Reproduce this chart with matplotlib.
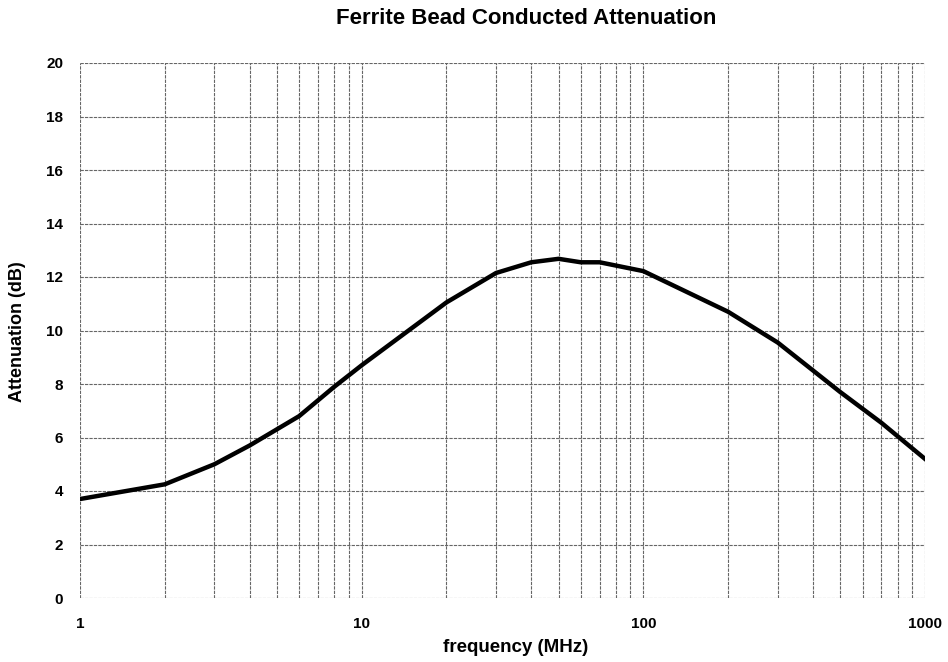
import matplotlib
matplotlib.use("Agg")
import matplotlib.pyplot as plt
from matplotlib.ticker import FixedLocator, NullFormatter

freq_mhz = [1, 2, 3, 4, 6, 8, 10, 20, 30, 40, 50, 60, 70, 100, 200, 300, 500, 700, 1000]
atten_db = [3.7, 4.25, 5.0, 5.7, 6.8, 7.9, 8.7, 11.05, 12.15, 12.55, 12.68, 12.55, 12.55, 12.22, 10.7, 9.55, 7.7, 6.55, 5.2]
x_ticks = [1, 10, 100, 1000]
x_tick_labels = ["1", "10", "100", "1000"]
y_ticks = list(range(0, 21, 2))

plt.rcParams['font.family'] = ['Liberation Sans', 'DejaVu Sans']

fig = plt.figure(figsize=(9.48, 6.62), dpi=100)
ax = fig.add_axes([80/948, 64/662, 845/948, 535/662])

ax.plot(freq_mhz, atten_db, color='black', lw=3.2, solid_joinstyle='round', zorder=3)
ax.set_xscale('log')
ax.set_xlim(1, 1000)
ax.set_ylim(0, 20)
ax.xaxis.set_major_locator(FixedLocator(x_ticks))
ax.set_xticklabels(x_tick_labels)
minors = [m * d for d in (1, 10, 100) for m in range(2, 10)]
ax.xaxis.set_minor_locator(FixedLocator(minors))
ax.xaxis.set_minor_formatter(NullFormatter())
ax.set_yticks(y_ticks)
ax.grid(True, which='both', color='#666666', lw=0.8, ls=(0, (3, 1)))
ax.tick_params(which='both', length=0, labelsize=11, pad=14)
for lab in ax.get_xticklabels() + ax.get_yticklabels():
    lab.set_fontweight('bold')
ax.tick_params(axis='y', pad=12)
for s in ax.spines.values():
    s.set_visible(False)

fig.text(526/948, 1 - 18/662, "Ferrite Bead Conducted Attenuation", ha='center', va='center',
         fontsize=16, fontweight='bold')
fig.text(516/948, 1 - 648/662, "frequency (MHz)", ha='center', va='center',
         fontsize=13.5, fontweight='bold')
fig.text(18/948, 1 - 332/662, "Attenuation (dB)", ha='center', va='center', rotation=90,
         fontsize=13, fontweight='bold')

fig.savefig("out.png", dpi=100)
